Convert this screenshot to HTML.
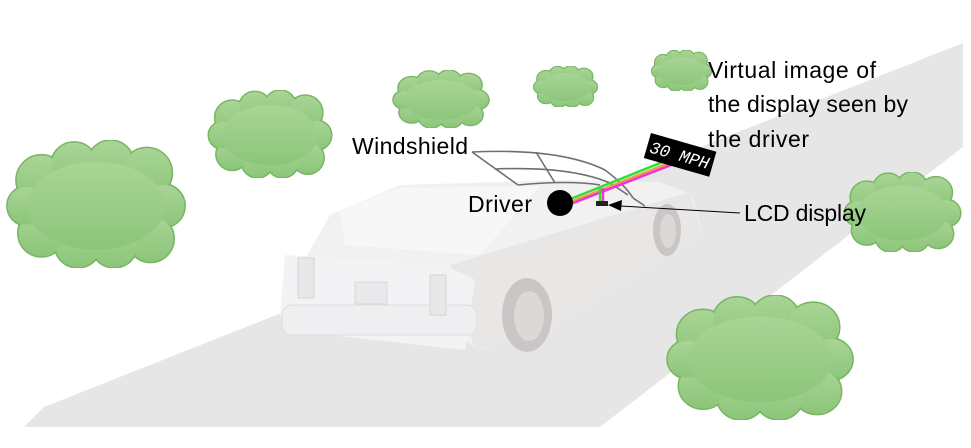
<!DOCTYPE html>
<html><head><meta charset="utf-8"><style>
html,body{margin:0;padding:0;background:#fff;}
svg{display:block}
text{font-family:"Liberation Sans","DejaVu Sans",sans-serif;fill:#000}
</style></head><body>
<svg width="971" height="448" viewBox="0 0 971 448" xmlns="http://www.w3.org/2000/svg">
<defs>
<linearGradient id="g" x1="0" y1="0" x2="0" y2="1"><stop offset="0" stop-color="#a9d495"/><stop offset="1" stop-color="#8cc67a"/></linearGradient>
<symbol id="cl" viewBox="0 0 100 70" preserveAspectRatio="none">
<g fill="url(#g)" stroke="#78b565" stroke-width="1.5">
<circle cx="20" cy="22" r="14" vector-effect="non-scaling-stroke"/><circle cx="38" cy="14" r="13" vector-effect="non-scaling-stroke"/><circle cx="58" cy="13" r="13" vector-effect="non-scaling-stroke"/><circle cx="78" cy="18" r="14" vector-effect="non-scaling-stroke"/><circle cx="87" cy="36" r="12" vector-effect="non-scaling-stroke"/><circle cx="80" cy="54" r="13" vector-effect="non-scaling-stroke"/><circle cx="60" cy="57" r="13" vector-effect="non-scaling-stroke"/><circle cx="40" cy="57" r="13" vector-effect="non-scaling-stroke"/><circle cx="20" cy="51" r="13" vector-effect="non-scaling-stroke"/><circle cx="12" cy="36" r="11" vector-effect="non-scaling-stroke"/>
</g>
<g fill="url(#g)">
<circle cx="20" cy="22" r="13.3"/><circle cx="38" cy="14" r="12.3"/><circle cx="58" cy="13" r="12.3"/><circle cx="78" cy="18" r="13.3"/><circle cx="87" cy="36" r="11.3"/><circle cx="80" cy="54" r="12.3"/><circle cx="60" cy="57" r="12.3"/><circle cx="40" cy="57" r="12.3"/><circle cx="20" cy="51" r="12.3"/><circle cx="12" cy="36" r="10.3"/><ellipse cx="50" cy="36" rx="38" ry="24"/>
</g>
</symbol>
</defs>
<!-- road -->
<polygon points="24,427 44,407 963,43 963,147 600,427" fill="#e6e6e6"/>
<!-- clouds -->
<use href="#cl" x="5" y="140" width="182" height="128"/>
<use href="#cl" x="207" y="90" width="126" height="88"/>
<use href="#cl" x="392" y="70" width="98" height="58"/>
<use href="#cl" x="533" y="66" width="65" height="41"/>
<use href="#cl" x="651" y="50" width="61" height="41"/>
<use href="#cl" x="843" y="172" width="119" height="80"/>
<use href="#cl" x="665" y="295" width="190" height="125"/>
<!-- car -->
<g>
<polygon points="330,215 400,185 560,180 660,182 692,195 702,232 640,275 540,330 480,350 430,320 290,285" fill="#f2f1f1"/>
<polygon points="450,265 690,192 702,235 630,282 540,335 475,350" fill="#e9e6e6"/>
<polygon points="340,210 400,188 540,186 480,255 345,245" fill="#f7f7f8"/>
<polygon points="285,255 445,265 475,280 465,350 330,335 280,315" fill="#f3f3f5"/>
<rect x="282" y="305" width="195" height="30" rx="10" fill="#efeff1" stroke="#dedede"/>
<rect x="355" y="282" width="32" height="22" fill="#e9e9eb" stroke="#d8d8d8"/>
<rect x="298" y="258" width="16" height="40" fill="#e8e8ea" stroke="#d5d5d5"/>
<rect x="430" y="275" width="16" height="40" fill="#e8e8ea" stroke="#d5d5d5"/>
<ellipse cx="527" cy="315" rx="25" ry="37" fill="#cbc6c6"/>
<ellipse cx="529" cy="316" rx="15" ry="25" fill="#dcd8d8"/>
<ellipse cx="667" cy="230" rx="14" ry="26" fill="#cbc6c6"/>
<ellipse cx="668" cy="231" rx="8" ry="17" fill="#dcd8d8"/>
</g>
<!-- windshield grid -->
<g fill="none" stroke="#6f6f6f" stroke-width="1.6">
<path d="M472,152 Q560,148 605,170 Q625,185 633,198"/>
<path d="M495,169 Q570,166 610,183 L628,195"/>
<path d="M518,185 Q570,180 600,185"/>
<line x1="472" y1="152" x2="518" y2="185"/>
<line x1="536" y1="152" x2="555" y2="183"/>
<path d="M633,198 L645,206"/>
</g>
<!-- rays -->
<g stroke-width="2.5" fill="none">
<line x1="568" y1="200" x2="680" y2="155" stroke="#33dd33"/>
<line x1="568" y1="203" x2="682" y2="158" stroke="#e8a040"/>
<line x1="568" y1="205" x2="684" y2="160" stroke="#ee33dd"/>
<line x1="600" y1="188" x2="600" y2="203" stroke="#33dd33"/>
<line x1="603" y1="188" x2="603" y2="203" stroke="#ee33dd"/>
</g>
<rect x="596" y="201" width="12" height="5" fill="#222"/>
<!-- 30 MPH -->
<g transform="translate(651,133) rotate(16)">
<rect x="0" y="0" width="68" height="26" fill="#000"/>
<text x="3" y="19" font-size="17" style="fill:#fff;font-family:'Liberation Mono',monospace" font-style="italic">30 MPH</text>
</g>
<circle cx="560" cy="203" r="13" fill="#000"/>
<!-- arrow -->
<line x1="740" y1="213" x2="620" y2="206" stroke="#000" stroke-width="1"/>
<polygon points="608,205 622,200 621,211" fill="#000"/>
<!-- labels -->
<text x="352" y="154" font-size="23" textLength="116">Windshield</text>
<text x="468" y="212" font-size="23" textLength="64">Driver</text>
<text x="708" y="78" font-size="23" textLength="168">Virtual image of</text>
<text x="708" y="112" font-size="23" textLength="200">the display seen by</text>
<text x="708" y="147" font-size="23" textLength="101">the driver</text>
<text x="744" y="221" font-size="23" textLength="122">LCD display</text>
</svg>
</body></html>
